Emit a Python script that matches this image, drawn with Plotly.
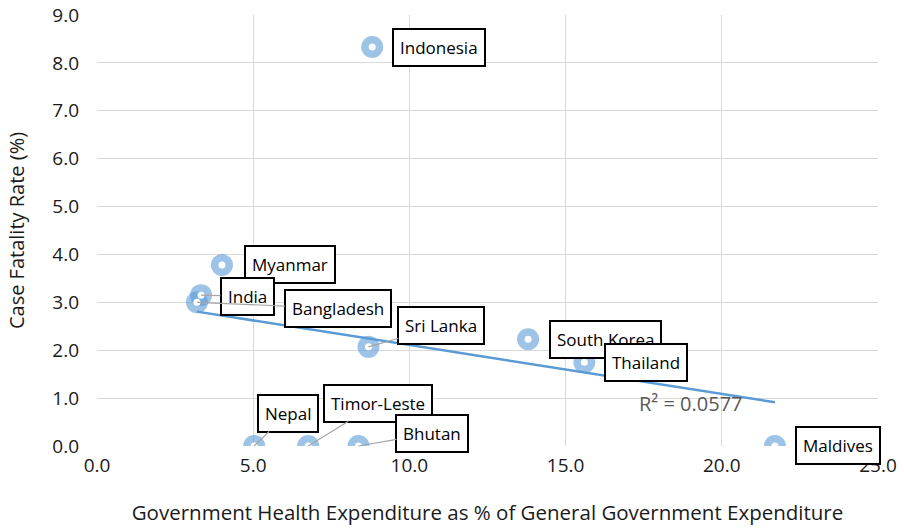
import numpy as np
import plotly.graph_objects as go

# Country data: government health spending share vs. case fatality rate
countries = ["Indonesia", "Myanmar", "India", "Bangladesh", "Sri Lanka",
             "South Korea", "Thailand", "Maldives", "Nepal", "Timor-Leste", "Bhutan"]
health_exp = [8.81, 4.00, 3.33, 3.20, 8.69, 13.80, 15.60, 21.70, 5.03, 6.76, 8.37]
cfr = [8.33, 3.78, 3.15, 3.00, 2.07, 2.23, 1.75, 0.00, 0.00, 0.00, 0.00]

# Label box offsets in pixels (dx, dy) and whether a leader line is drawn
label_dx = [67, 68, 46, 141, 73, 77, 62, 63, 34, 70, 74]
label_dy = [0, 0, 1, 6, -21, 0, 0, -1, -33, -43, -13]
leader = [False, False, True, True, True, False, False, False, True, True, True]

r2_text = "R² = 0.0577"

x = np.array(health_exp)
y = np.array(cfr)
slope, intercept = np.polyfit(x, y, 1)
xt = np.array([x.min(), x.max()])
yt = slope * xt + intercept

fig = go.Figure()

fig.add_trace(go.Scatter(
    x=health_exp, y=cfr, mode="markers",
    marker=dict(size=22, color="rgb(91,155,213)", opacity=0.6, line=dict(width=0)),
    hoverinfo="skip", showlegend=False,
))
fig.add_trace(go.Scatter(
    x=health_exp, y=cfr, mode="markers",
    marker=dict(size=7, color="white", line=dict(width=0)),
    hoverinfo="skip", showlegend=False,
))
fig.add_trace(go.Scatter(
    x=xt, y=yt, mode="lines",
    line=dict(color="#5B9BD5", width=2.5),
    hoverinfo="skip", showlegend=False,
))

font_family = "'Open Sans', 'Noto Sans', sans-serif"

annotations = []
for name, xv, yv, dx, dy, ld in zip(countries, health_exp, cfr, label_dx, label_dy, leader):
    annotations.append(dict(
        x=xv, y=yv, xref="x", yref="y",
        text=name, showarrow=True, ax=dx, ay=dy,
        arrowhead=0, arrowwidth=1.2,
        arrowcolor="#A6A6A6" if ld else "rgba(0,0,0,0)",
        font=dict(family=font_family, size=17, color="black"),
        bgcolor="white", bordercolor="black", borderwidth=2, borderpad=6,
    ))

annotations.append(dict(
    x=19.0, y=0.88, xref="x", yref="y", text=r2_text, showarrow=False,
    font=dict(family=font_family, size=20, color="#595959"),
))

fig.update_layout(
    width=904, height=529,
    margin=dict(l=97, r=26, t=15, b=83),
    paper_bgcolor="white", plot_bgcolor="white",
    font=dict(family=font_family, color="#1a1a1a"),
    annotations=annotations,
    xaxis=dict(
        range=[0, 25], dtick=5, tickformat=".1f",
        showgrid=True, gridcolor="#D9D9D9", gridwidth=1,
        zeroline=False, showline=False, ticks="", automargin=False,
        ticklabelstandoff=6,
        tickfont=dict(size=19, color="#1a1a1a"),
        title=dict(text="Government Health Expenditure as % of General Government Expenditure",
                   font=dict(size=20.5, color="#1a1a1a"), standoff=28),
    ),
    yaxis=dict(
        range=[0, 9], dtick=1, tickformat=".1f",
        showgrid=True, gridcolor="#D9D9D9", gridwidth=1,
        zeroline=False, showline=False, ticks="", automargin=False,
        ticklabelstandoff=17,
        tickfont=dict(size=19, color="#1a1a1a"),
        title=dict(text="Case Fatality Rate (%)",
                   font=dict(size=20, color="#1a1a1a"), standoff=22),
    ),
)

fig.write_html("out.html")
